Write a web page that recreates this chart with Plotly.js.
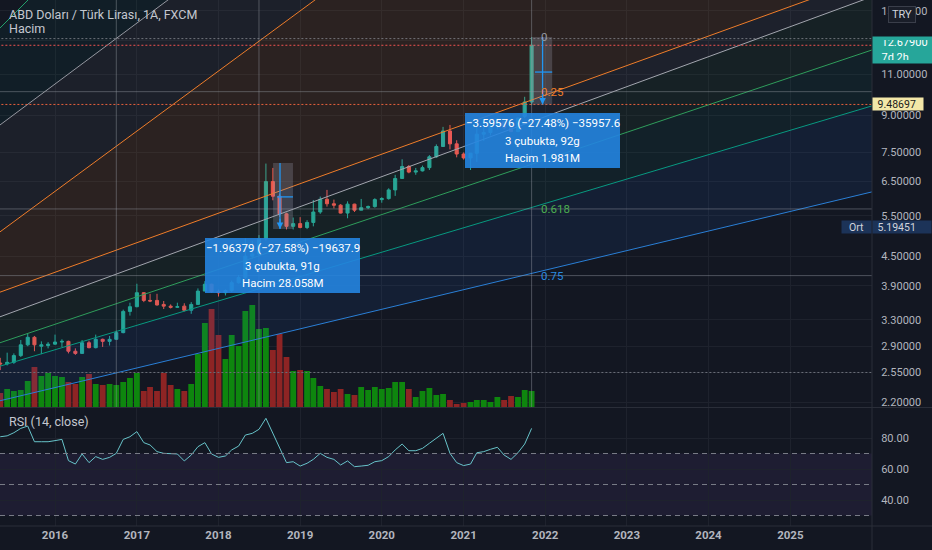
<!DOCTYPE html>
<html>
<head>
<meta charset="utf-8">
<script src="https://cdn.plot.ly/plotly-3.0.1.min.js"></script>
<style>
html,body{margin:0;padding:0;background:#131722;}
#chart{width:932px;height:550px;}
</style>
</head>
<body>
<div id="chart"></div>
<script>
// ---------------- DATA ----------------
const months = [
 '2015-05-01','2015-06-01','2015-07-01','2015-08-01','2015-09-01','2015-10-01','2015-11-01','2015-12-01',
 '2016-01-01','2016-02-01','2016-03-01','2016-04-01','2016-05-01','2016-06-01','2016-07-01','2016-08-01','2016-09-01','2016-10-01','2016-11-01','2016-12-01',
 '2017-01-01','2017-02-01','2017-03-01','2017-04-01','2017-05-01','2017-06-01','2017-07-01','2017-08-01','2017-09-01','2017-10-01','2017-11-01','2017-12-01',
 '2018-01-01','2018-02-01','2018-03-01','2018-04-01','2018-05-01','2018-06-01','2018-07-01','2018-08-01','2018-09-01','2018-10-01','2018-11-01','2018-12-01',
 '2019-01-01','2019-02-01','2019-03-01','2019-04-01','2019-05-01','2019-06-01','2019-07-01','2019-08-01','2019-09-01','2019-10-01','2019-11-01','2019-12-01',
 '2020-01-01','2020-02-01','2020-03-01','2020-04-01','2020-05-01','2020-06-01','2020-07-01','2020-08-01','2020-09-01','2020-10-01','2020-11-01','2020-12-01',
 '2021-01-01','2021-02-01','2021-03-01','2021-04-01','2021-05-01','2021-06-01','2021-07-01','2021-08-01','2021-09-01','2021-10-01','2021-11-01'
];
const open = [2.67,2.66,2.68,2.77,2.92,3.03,2.90,2.91, 2.93,2.96,2.97,2.83,2.80,2.95,2.88,3.00,2.97,3.00,3.10,3.44,
 3.52,3.77,3.63,3.63,3.56,3.53,3.51,3.53,3.46,3.56,3.80,3.93, 3.79,3.77,3.81,3.96,4.06,4.51,4.56,4.91,6.50,6.05,5.55,5.22,
 5.29,5.19,5.32,5.60,5.96,5.83,5.79,5.57,5.82,5.65,5.72,5.75, 5.95,5.98,6.24,6.60,7.00,6.81,6.85,6.96,7.34,7.72,8.33,7.82,
 7.44,7.30,7.47,8.20,8.27,8.55,8.71,8.46,8.31,8.95,9.60];
const high = [2.74,2.81,2.80,2.99,3.08,3.05,2.97,2.96, 3.07,3.00,2.98,2.87,2.99,2.98,3.07,3.01,3.05,3.13,3.47,3.59,
 3.94,3.78,3.75,3.75,3.62,3.56,3.59,3.58,3.60,3.85,3.99,3.94, 3.83,3.83,4.00,4.11,4.92,4.86,5.00,7.10,6.95,6.13,5.58,5.45,
 5.46,5.38,5.94,6.04,6.24,5.95,5.82,5.90,5.83,5.97,5.78,5.99, 6.02,6.29,6.72,7.25,7.05,6.95,7.03,7.40,7.80,8.50,8.58,7.96,
 7.50,7.48,8.47,8.48,8.64,8.84,8.75,8.68,8.90,9.85,13.20];
const low = [2.58,2.64,2.66,2.75,2.90,2.83,2.79,2.87, 2.92,2.89,2.80,2.78,2.80,2.87,2.87,2.89,2.91,3.00,3.09,3.37,
 3.51,3.60,3.60,3.54,3.48,3.49,3.50,3.44,3.40,3.56,3.80,3.77, 3.70,3.72,3.78,3.94,4.03,4.45,4.53,4.87,5.93,5.47,5.14,5.14,
 5.17,5.15,5.22,5.55,5.75,5.70,5.56,5.43,5.60,5.65,5.68,5.72, 5.86,5.95,6.06,6.60,6.77,6.72,6.83,6.88,7.30,7.70,7.61,7.32,
 7.24,6.88,7.16,7.93,8.15,8.40,8.40,8.28,8.28,8.88,9.45];
const close = [2.66,2.68,2.77,2.92,3.03,2.92,2.92,2.93, 2.96,2.97,2.83,2.80,2.95,2.88,3.00,2.97,3.00,3.10,3.44,3.52,
 3.77,3.63,3.62,3.55,3.53,3.51,3.52,3.46,3.56,3.80,3.93,3.79, 3.77,3.81,3.96,4.06,4.51,4.56,4.91,6.50,6.05,5.55,5.22,5.29,
 5.19,5.32,5.60,5.96,5.83,5.79,5.57,5.82,5.65,5.72,5.75,5.95, 5.98,6.24,6.60,7.00,6.81,6.85,6.96,7.34,7.72,8.33,7.82,7.44,
 7.30,7.47,8.20,8.27,8.55,8.71,8.46,8.31,8.87,9.60,12.679];
// volume, millions
const volume = [1.82,2.34,2.08,2.21,3.38,5.2,4.03,4.42, 4.03,3.9,3.25,2.99,3.9,4.29,2.99,2.86,2.99,2.86,3.25,3.77,
 4.42,2.08,2.6,2.08,4.42,2.86,2.34,2.08,2.99,6.89,10.92,12.74, 9.36,6.24,9.36,7.93,12.48,13.26,10.14,10.27,7.41,9.49,6.5,4.68,
 4.81,4.68,3.77,2.73,2.34,1.95,2.34,1.69,1.56,2.6,2.21,2.6, 2.34,2.47,3.25,3.25,2.34,1.3,2.08,2.47,1.56,1.69,0.91,0.39,
 0.52,0.65,0.91,0.91,0.65,1.3,0.91,1.43,1.3,2.21,2.08];
// RSI(14, close)
const rsi = [80.8,81.4,83.4,86.2,87.7,77.6,77.6,77.6, 78.3,79.1,65.4,63.2,69.7,64.1,68.0,66.2,67.5,70.1,79.1,80.8,
 84.1,77.0,75.5,71.2,70.1,69.7,69.7,65.2,69.0,74.4,77.0,69.7, 67.5,68.4,72.3,74.8,81.9,83.0,85.6,92.7,83.0,73.3,64.1,64.7,
 61.9,63.7,66.2,70.1,67.5,66.2,62.6,65.2,61.5,61.9,62.4,64.7, 65.4,68.0,72.3,76.1,71.8,71.8,73.3,76.6,79.8,83.0,70.1,64.1,
 62.2,63.2,70.5,71.2,72.7,74.0,69.0,66.2,70.5,76.1,86.2];

// axis ticks
const yearTicks = ['2016-01-01','2017-01-01','2018-01-01','2019-01-01','2020-01-01','2021-01-01','2022-01-01','2023-01-01','2024-01-01','2025-01-01'];
const yearLabels = ['2016','2017','2018','2019','2020','2021','2022','2023','2024','2025'];
const priceTicks = [2.2,2.55,2.9,3.3,3.9,4.5,5.5,6.5,7.5,9,11,13,15];
const priceTickText = ['2.20000','2.55000','2.90000','3.30000','3.90000','4.50000','5.50000','6.50000','7.50000','9.00000','11.00000','','15.00000'];
const rsiTicks = [40,60,80];
const rsiTickText = ['40.00','60.00','80.00'];

// drawings: channel lines (price at start / end date)
const chanStart = '2015-04-30', chanEnd = '2026-01-01';
const chanP0 = [13.80, 8.58, 5.08, 3.78, 3.35, 2.95, 2.63, 2.22];
const chanP1 = [991, 206.4, 118.2, 17.72, 16.09, 12.39, 9.42, 6.18];
// fib retracement
const fibTop = 13.1, fibBottom = 1.1;
const fibLevels = [0, 0.25, 0.618, 0.75];
const fibLabelDate = '2021-12-04';
// vertical marker lines
const vLines = ['2016-10-01','2018-07-01','2021-11-01'];
// horizontal lines
const hLine1 = 9.48697;
const hLine2 = 2.55;
const avgPrice = 5.19451;
// price range tools
const rangeT0 = ['2018-09-02','2021-11-03'];
const rangeT1 = ['2018-11-30','2022-02-01'];
const rangeTop = [7.12, 13.2];
const rangeBot = [5.15, 9.487];
const rangeArrowT = ['2018-10-03','2021-12-20'];
const rangeMidT0 = ['2018-09-20','2021-11-16'];
const rangeMid = [6.03, 11.12];
const rangeText = [
  ['−1.96379 (−27.58%) −19637.9','3 çubukta, 91g','Hacim 28.058M'],
  ['−3.59576 (−27.48%) −35957.6','3 çubukta, 92g','Hacim 1.981M']
];

// ---------------- STYLE ----------------
const FONT = 'Roboto, "Liberation Sans", sans-serif';
const TXT = '#b2b5be';
const GRID = '#1e222d';
const UP = '#26a69a', DN = '#ef5350';
const chanColors = ['#22a06b','#9598a1','#ef7d2a','#ef7d2a','#a3a6af','#2f9e5c','#089981','#2a7fd6'];
const chanFills = ['rgba(0,0,0,0)','rgba(0,150,120,0.06)','rgba(150,150,150,0.07)','rgba(255,140,30,0.10)',
  'rgba(150,153,161,0.08)','rgba(76,175,80,0.07)','rgba(8,153,129,0.08)','rgba(33,120,243,0.09)'];
const fibColors = ['#9598a1','#ef7d2a','#4caf50','#2a8ae0'];

// ---------------- TRACES ----------------
const traces = [];
const volColors = close.map((c,i)=> c >= open[i] ? '#0e860e' : '#8e2424');
traces.push({type:'bar', x:months, y:volume, xaxis:'x', yaxis:'y', marker:{color:volColors, line:{width:0}},
  width: 26*864e5, hoverinfo:'skip'});
traces.push({type:'candlestick', x:months, open:open, high:high, low:low, close:close, xaxis:'x', yaxis:'y2',
  increasing:{line:{color:UP,width:1}, fillcolor:UP}, decreasing:{line:{color:DN,width:1}, fillcolor:DN},
  whiskerwidth:0, hoverinfo:'skip'});
for (let i=0;i<chanP0.length;i++){
  traces.push({type:'scatter', mode:'lines', x:[chanStart,chanEnd], y:[chanP0[i],chanP1[i]], xaxis:'x', yaxis:'y2',
    line:{color:chanColors[i], width:1}, fill: i===0 ? 'none' : 'tonexty', fillcolor: chanFills[i], hoverinfo:'skip'});
}
fibLevels.forEach((k,i)=>{
  const p = fibTop - k*(fibTop-fibBottom);
  traces.push({type:'scatter', mode:'lines', x:['2015-01-01','2026-06-01'], y:[p,p], xaxis:'x', yaxis:'y2',
    line:{color: i===0 ? 'rgba(149,152,161,0.7)' : 'rgba(149,152,161,0.45)', width:1, dash: i===0 ? '2px,2px' : 'solid'}, hoverinfo:'skip'});
});
vLines.forEach(d=>{
  traces.push({type:'scatter', mode:'lines', x:[d,d], y:[1.5,25], xaxis:'x', yaxis:'y2',
    line:{color:'rgba(149,152,161,0.45)', width:1}, hoverinfo:'skip'});
});
const last = close[close.length-1];
traces.push({type:'scatter', mode:'lines', x:['2015-01-01','2026-06-01'], y:[last,last], xaxis:'x', yaxis:'y2',
  line:{color:'#ef5350', width:1, dash:'2px,2px'}, hoverinfo:'skip'});
traces.push({type:'scatter', mode:'lines', x:['2015-01-01','2026-06-01'], y:[hLine1,hLine1], xaxis:'x', yaxis:'y2',
  line:{color:'#e8603c', width:1, dash:'2px,2px'}, hoverinfo:'skip'});
traces.push({type:'scatter', mode:'lines', x:['2015-01-01','2026-06-01'], y:[hLine2,hLine2], xaxis:'x', yaxis:'y2',
  line:{color:'#6a6d78', width:1, dash:'2px,2px'}, hoverinfo:'skip'});
for (let i=0;i<2;i++){
  traces.push({type:'scatter', mode:'lines', x:[rangeT0[i],rangeT1[i],rangeT1[i],rangeT0[i],rangeT0[i]],
    y:[rangeTop[i],rangeTop[i],rangeBot[i],rangeBot[i],rangeTop[i]], xaxis:'x', yaxis:'y2', fill:'toself',
    fillcolor:'rgba(150,155,172,0.28)', line:{width:0, color:'rgba(0,0,0,0)'}, hoverinfo:'skip'});
  traces.push({type:'scatter', mode:'lines', x:[rangeArrowT[i],rangeArrowT[i]], y:[rangeTop[i],rangeBot[i]], xaxis:'x', yaxis:'y2',
    line:{color:'#2196f3', width:1.3}, hoverinfo:'skip'});
  traces.push({type:'scatter', mode:'lines', x:[rangeMidT0[i],rangeT1[i]], y:[rangeMid[i],rangeMid[i]], xaxis:'x', yaxis:'y2',
    line:{color:'#2196f3', width:1.3}, hoverinfo:'skip'});
}
traces.push({type:'scatter', mode:'lines', x:months, y:rsi, xaxis:'x', yaxis:'y3',
  line:{color:'#67c3c9', width:1}, hoverinfo:'skip'});

// ---------------- LAYOUT ----------------
const W = 932, H = 550, MR = 60, MB = 24;
const PW = W - MR, PH = H - MB;
const py = px => 1 - px/PH;
const pxx = px => px/PW;

const shapes = [
  {type:'rect', xref:'paper', yref:'y3', x0:0, x1:1, y0:30, y1:70, fillcolor:'rgba(126,87,194,0.10)', line:{width:0}, layer:'below'},
  {type:'line', xref:'paper', yref:'y3', x0:0, x1:1, y0:70, y1:70, line:{color:'#787b86', width:1, dash:'5px,4px'}},
  {type:'line', xref:'paper', yref:'y3', x0:0, x1:1, y0:50, y1:50, line:{color:'#787b86', width:1, dash:'5px,4px'}},
  {type:'line', xref:'paper', yref:'y3', x0:0, x1:1, y0:30, y1:30, line:{color:'#787b86', width:1, dash:'5px,4px'}},
  {type:'line', xref:'paper', yref:'paper', x0:0, x1:W/PW, y0:py(407.5), y1:py(407.5), line:{color:'#2a2e39', width:1}},
  {type:'line', xref:'paper', yref:'paper', x0:0, x1:W/PW, y0:0, y1:0, line:{color:'#2a2e39', width:1}},
  {type:'line', xref:'paper', yref:'paper', x0:1, x1:1, y0:-MB/PH, y1:1, line:{color:'#2a2e39', width:1}},
  {type:'rect', xref:'paper', yref:'paper', x0:pxx(205), x1:pxx(360), y0:py(293), y1:py(238), fillcolor:'rgba(36,132,224,0.9)', line:{width:0}, layer:'above'},
  {type:'rect', xref:'paper', yref:'paper', x0:pxx(465), x1:pxx(620), y0:py(168), y1:py(113), fillcolor:'rgba(36,132,224,0.9)', line:{width:0}, layer:'above'},
];

const annotations = [];
const txt = (text, x, y, opts) => Object.assign({text:text, xref:'paper', yref:'paper', x:x, y:y, showarrow:false,
  xanchor:'left', yanchor:'middle', font:{family:FONT, size:12, color:'#c4c7cf'}}, opts||{});
annotations.push(txt('ABD Doları / Türk Lirası, 1A, FXCM', 0, py(15), {xshift:7, font:{family:FONT,size:12.5,color:'#c4c7cf'}}));
annotations.push(txt('Hacim', 0, py(29), {xshift:7, font:{family:FONT,size:12.5,color:'#c4c7cf'}}));
annotations.push(txt('RSI (14, close)', 0, py(421), {xshift:7, font:{family:FONT,size:12.5,color:'#c4c7cf'}}));
fibLevels.forEach((k,i)=>{
  const p = fibTop - k*(fibTop-fibBottom);
  annotations.push({text:String(k), xref:'x', yref:'y2', x:fibLabelDate, y:Math.log10(p), showarrow:false,
    xanchor:'left', yanchor:'middle', yshift: i===0 ? 2 : 0, font:{family:FONT, size:11.5, color:fibColors[i]}});
});
for (let i=0;i<2;i++){
  annotations.push({text:'', xref:'x', yref:'y2', x:rangeArrowT[i], y:Math.log10(rangeBot[i]),
    axref:'x', ayref:'y2', ax:rangeArrowT[i], ay:Math.log10(rangeBot[i]*1.06), showarrow:true,
    arrowhead:2, arrowsize:1, arrowwidth:1.3, arrowcolor:'#2196f3', standoff:0});
}
const boxCx = [pxx(282.5), pxx(542.5)];
const boxRows = [[248,265.5,283],[123,140.5,158]];
for (let b=0;b<2;b++){
  rangeText[b].forEach((t,r)=>{
    annotations.push(txt(t, boxCx[b], py(boxRows[b][r]), {xanchor:'center', font:{family:FONT,size:11.5,color:'#ffffff'}}));
  });
}
annotations.push({text:'&nbsp;&nbsp;'+last.toFixed(5)+'<br>&nbsp;&nbsp;7d 2h', xref:'paper', yref:'y2', x:1, y:Math.log10(last), yshift:-4.7,
  xanchor:'left', yanchor:'middle', showarrow:false, align:'left', width:54, height:20, borderpad:3, bgcolor:'#26a69a',
  font:{family:FONT, size:11, color:'#ffffff'}});
annotations.push({text:'&nbsp;'+hLine1.toFixed(5), xref:'paper', yref:'y2', x:1, y:Math.log10(hLine1),
  xanchor:'left', yanchor:'middle', showarrow:false, align:'left', width:46, height:8, borderpad:2, bgcolor:'#f3e7a8',
  font:{family:FONT, size:10.5, color:'#1a1a1a'}});
annotations.push({text:'&nbsp;'+avgPrice.toFixed(5), xref:'paper', yref:'y2', x:1, y:Math.log10(avgPrice),
  xanchor:'left', yanchor:'middle', showarrow:false, align:'left', width:54, height:8, borderpad:2, bgcolor:'#1c3358',
  font:{family:FONT, size:10.5, color:'#d1d4dc'}});
annotations.push({text:'Ort', xref:'paper', yref:'y2', x:1, y:Math.log10(avgPrice),
  xanchor:'right', yanchor:'middle', showarrow:false, align:'center', width:25, height:8, borderpad:2, bgcolor:'#1c3358',
  font:{family:FONT, size:10.5, color:'#d1d4dc'}});
annotations.push({text:'TRY', xref:'paper', yref:'paper', x:pxx(901.5), y:py(14.5), xanchor:'center', yanchor:'middle',
  showarrow:false, width:22, height:11, borderpad:2, bgcolor:'#1a1e29', bordercolor:'#3a3e4a', borderwidth:1,
  font:{family:FONT, size:11, color:'#d1d4dc'}});

const layout = {
  width:W, height:H,
  margin:{l:0, r:MR, t:0, b:MB, pad:0},
  paper_bgcolor:'#131722', plot_bgcolor:'#131722',
  showlegend:false,
  font:{family:FONT, color:TXT, size:11},
  boxgap:0.3,
  xaxis:{type:'date', range:['2015-04-30','2026-01-01'], anchor:'y3', tickmode:'array', tickvals:yearTicks, ticktext:yearLabels,
    tickfont:{family:FONT, size:11.5, color:TXT, weight:'bold'}, showgrid:true, gridcolor:GRID, zeroline:false, showline:false,
    ticks:'', rangeslider:{visible:false}, fixedrange:true},
  yaxis:{domain:[py(407),1], range:[0,52.91], visible:false, fixedrange:true, showgrid:false},
  yaxis2:{overlaying:'y', type:'log', range:[Math.log10(2.153), Math.log10(15.83)], side:'right', anchor:'x',
    tickmode:'array', tickvals:priceTicks, ticktext:priceTickText, tickfont:{family:FONT, size:11, color:TXT},
    showgrid:true, gridcolor:GRID, zeroline:false, showline:false, ticks:'outside', ticklen:6, tickcolor:'rgba(0,0,0,0)', fixedrange:true},
  yaxis3:{domain:[0, py(408)], range:[23.23, 99.35], side:'right', anchor:'x', tickmode:'array', tickvals:rsiTicks, ticktext:rsiTickText,
    tickfont:{family:FONT, size:11, color:TXT}, showgrid:true, gridcolor:GRID, zeroline:false, showline:false,
    ticks:'outside', ticklen:6, tickcolor:'rgba(0,0,0,0)', fixedrange:true},
  shapes:shapes,
  annotations:annotations
};

Plotly.newPlot('chart', traces, layout, {displayModeBar:false, staticPlot:true});
</script>
</body>
</html>
